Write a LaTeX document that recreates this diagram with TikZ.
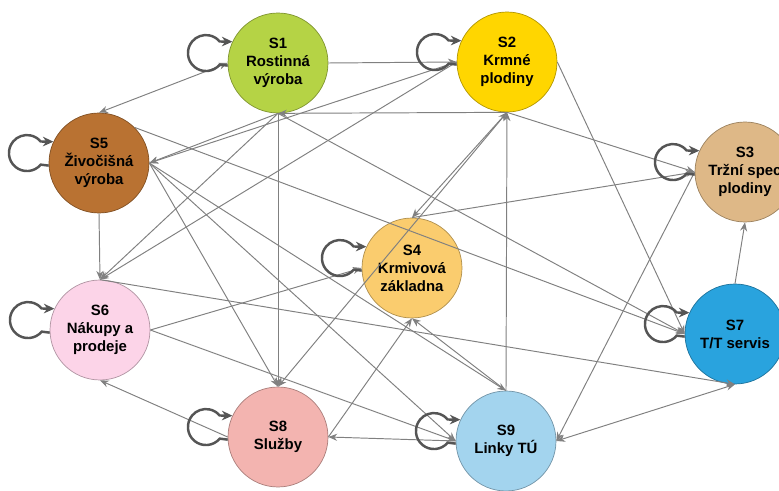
\documentclass[tikz,border=0pt]{standalone}
\usepackage{fontspec}
\setmainfont{Liberation Sans}
\usetikzlibrary{arrows.meta,calc}

\definecolor{cSa}{RGB}{181,211,69}
\definecolor{cSb}{RGB}{255,214,0}
\definecolor{cSc}{RGB}{222,184,135}
\definecolor{cSd}{RGB}{250,204,110}
\definecolor{cSe}{RGB}{185,114,50}
\definecolor{cSf}{RGB}{252,212,232}
\definecolor{cSg}{RGB}{41,163,222}
\definecolor{cSh}{RGB}{243,180,176}
\definecolor{cSi}{RGB}{163,212,238}
\definecolor{linkgray}{RGB}{128,128,128}
\definecolor{loopgray}{RGB}{85,85,85}

% self-loop drawn as a small circle on the left of a state
\newcommand\selfloop[1]{%
  \draw[loopline] (#1.183) -- ++(-8,1)
    arc[start angle=-40,end angle=-320,radius=18] -- (#1.155);}

\begin{document}
\begin{tikzpicture}[x=0.02cm,y=0.02cm,
  state/.style={circle, minimum size=2cm, inner sep=0pt, fill=#1,
    draw=#1!70!black, line width=0.4pt, align=center,
    font=\bfseries\fontsize{8.5}{10.3}\selectfont},
  link/.style={draw=linkgray, line width=0.55pt,
    -{Stealth[length=5pt,width=4pt]}},
  twoway/.style={link, {Stealth[length=5pt,width=4pt]}-{Stealth[length=5pt,width=4pt]}},
  loopline/.style={draw=loopgray, line width=1.4pt,
    -{Stealth[length=6pt,width=5.5pt]}}]
\clip (0,0) rectangle (779,491);

% states
\node[state=cSa] (s1) at (278,428) {S1\\Rostinná\\výroba};
\node[state=cSb] (s2) at (507,429) {S2\\Krmné\\plodiny};
\node[state=cSc] (s3) at (745,319) {S3\\Tržní spec\\plodiny};
\node[state=cSd] (s4) at (412,223) {S4\\Krmivová\\základna};
\node[state=cSe] (s5) at (99,328) {S5\\Živočišná\\výroba};
\node[state=cSf] (s6) at (100,161) {S6\\Nákupy a\\prodeje};
\node[state=cSg] (s7) at (735,157) {S7\\T/T servis};
\node[state=cSh] (s8) at (278,54) {S8\\Služby};
\node[state=cSi] (s9) at (506,50) {S9\\Linky TÚ};

% links between states
\draw[twoway] (s1.west) -- (s5.north);
\draw[link] (s1.east) -- (s2.west);
\draw[link] (s1.south) -- (s8.north);
\draw[link] (s2.south) -- (s1.south);
\draw[link] (s1.south) -- (s5.east);
\draw[link] (s2.west) -- (s5.east);
\draw[link] (s1.south) -- (s6.north);
\draw[link] (s2.west) -- (s6.north);
\draw[link] (s5.south) -- (s6.north);
\draw[link] (s5.45) -- (s7.west);
\draw[link] (s1.south) -- (s7.west);
\draw[link] (s2.east) -- (s7.west);
\draw[link] (s2.south) -- (s3.west);
\draw[link] (s4.north) -- (s3.west);
\draw[link] (s7.north) -- (s3.south);
\draw[link] (s3.west) -- (s9.east);
\draw[twoway] (s9.east) -- (s7.south);
\draw[link] (s6.north) -- (s7.south);
\draw[twoway] (s2.south) -- (s4.north);
\draw[link] (s2.south) -- (s8.north);
\draw[link] (s6.east) -- (s4.west);
\draw[link] (s8.east) -- (s4.south);
\draw[link] (s9.north) -- (s4.south);
\draw[link] (s9.north) -- (s2.south);
\draw[link] (s9.west) -- (s8.east);
\draw[link] (s8.west) -- (s6.south);
\draw[link] (s5.east) -- (s8.north);
\draw[link] (s5.east) -- (s9.west);
\draw[link] (s5.east) -- (s9.north);
\draw[link] (s6.east) -- (s9.west);

% self-loops
\selfloop{s1}
\selfloop{s2}
\selfloop{s3}
\selfloop{s4}
\selfloop{s5}
\selfloop{s6}
\selfloop{s7}
\selfloop{s8}
\selfloop{s9}
\end{tikzpicture}
\end{document}
